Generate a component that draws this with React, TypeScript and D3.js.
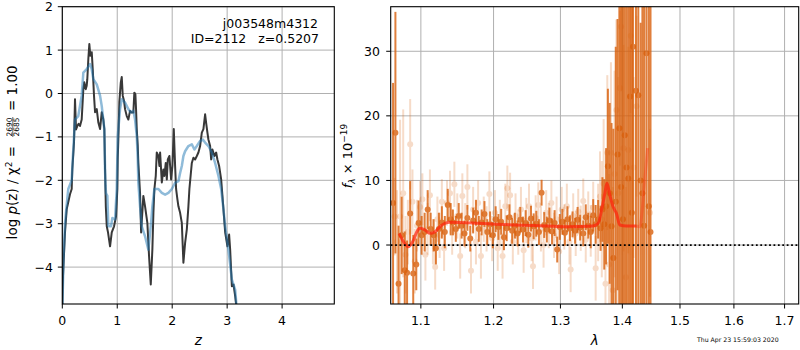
import React from "react";
import * as d3 from "d3";

// ---- p(z) panel ----
const zData = [0, 0.013, 0.049, 0.08, 0.1, 0.14, 0.171, 0.182, 0.213, 0.231, 0.25, 0.273, 0.295, 0.322, 0.353, 0.383, 0.4, 0.426, 0.444, 0.455, 0.474, 0.492, 0.51, 0.536, 0.554, 0.577, 0.596, 0.627, 0.656, 0.687, 0.718, 0.747, 0.765, 0.778, 0.792, 0.809, 0.832, 0.869, 0.9, 0.942, 0.978, 1.002, 1.009, 1.02, 1.038, 1.064, 1.082, 1.1, 1.124, 1.142, 1.173, 1.202, 1.233, 1.264, 1.293, 1.311, 1.33, 1.342, 1.355, 1.373, 1.384, 1.415, 1.434, 1.475, 1.506, 1.548, 1.579, 1.61, 1.639, 1.658, 1.676, 1.701, 1.719, 1.749, 1.767, 1.78, 1.811, 1.84, 1.858, 1.883, 1.902, 1.92, 1.949, 1.98, 2.004, 2.029, 2.053, 2.071, 2.095, 2.113, 2.144, 2.175, 2.204, 2.235, 2.266, 2.295, 2.313, 2.357, 2.386, 2.417, 2.448, 2.477, 2.508, 2.539, 2.568, 2.599, 2.617, 2.641, 2.659, 2.69, 2.709, 2.732, 2.769, 2.8, 2.823, 2.854, 2.891, 2.914, 2.933, 2.964, 3.005, 3.036, 3.055, 3.086, 3.115, 3.146, 3.177];
const pData = [-5.0, -4.2, -3.2, -2.67, -2.55, -2.32, -2.2, -1.75, -1.13, -0.13, -0.83, -0.75, -0.7, -0.75, -0.6, 0.1, 0.26, 0.1, 0.18, 0.33, 0.8, 1.14, 0.87, 0.95, 0.56, -0.05, -0.43, -0.36, -0.67, -0.82, -0.43, -0.6, -0.82, -1.75, -2.6, -3.06, -3.2, -3.52, -3.2, -3.06, -2.83, -2.2, -1.5, -1.06, -0.2, 0.25, 0.38, -0.05, -0.17, -0.36, -0.52, -0.6, -0.4, -0.44, -0.44, 0.02, -0.02, -0.36, -0.82, -1.2, -1.6, -2.3, -3.2, -2.36, -2.6, -2.98, -3.75, -4.4, -3.6, -2.75, -2.2, -1.9, -1.36, -1.44, -1.67, -1.36, -2.05, -1.75, -1.9, -1.6, -1.98, -1.52, -1.44, -1.98, -1.67, -0.82, -1.67, -2.2, -2.44, -2.6, -2.75, -2.98, -3.9, -3.44, -3.13, -2.6, -2.2, -1.6, -1.48, -1.52, -1.44, -1.36, -1.21, -0.9, -0.82, -0.48, -0.67, -0.9, -1.06, -1.21, -1.52, -1.29, -1.44, -1.36, -1.52, -1.67, -1.98, -2.36, -2.67, -3.2, -3.52, -3.25, -3.6, -4.44, -4.4, -4.67, -5.0];

const zFit = [0, 0.022, 0.049, 0.077, 0.109, 0.171, 0.195, 0.231, 0.291, 0.353, 0.383, 0.444, 0.505, 0.536, 0.565, 0.627, 0.687, 0.718, 0.765, 0.778, 0.787, 0.796, 0.82, 0.838, 0.887, 0.911, 0.96, 0.991, 1.009, 1.051, 1.082, 1.142, 1.202, 1.251, 1.293, 1.324, 1.355, 1.373, 1.384, 1.415, 1.446, 1.506, 1.566, 1.616, 1.639, 1.676, 1.749, 1.811, 1.871, 1.931, 1.993, 2.053, 2.113, 2.144, 2.175, 2.204, 2.235, 2.295, 2.357, 2.404, 2.448, 2.508, 2.557, 2.599, 2.659, 2.721, 2.781, 2.842, 2.891, 2.933, 2.964, 3.024, 3.086, 3.146, 3.177];
const pFit = [-5.0, -3.8, -3.0, -2.6, -2.2, -2.0, -1.4, -0.6, -0.52, -0.05, 0.48, 0.56, 0.68, 0.56, 0.33, 0.21, -0.05, -0.29, -0.82, -1.75, -2.13, -2.3, -2.36, -3.06, -3.06, -2.87, -2.9, -2.2, -0.98, -0.36, -0.13, -0.21, -0.36, -0.44, -0.4, -0.6, -0.98, -1.5, -2.06, -2.6, -3.06, -3.29, -3.6, -2.98, -2.6, -2.2, -2.2, -2.29, -2.33, -2.29, -2.2, -2.06, -2.02, -1.83, -1.67, -1.44, -1.33, -1.21, -1.17, -1.29, -1.21, -1.09, -1.06, -1.13, -1.21, -1.36, -1.6, -1.9, -2.2, -2.67, -3.06, -3.6, -4.29, -4.52, -5.0];

const zTicks = [0, 1, 2, 3, 4];
const pTicks = [2, 1, 0, -1, -2, -3, -4];

// ---- spectrum panel ----
// light (second exposure) points
const waveA = [1.066, 1.069, 1.073, 1.077, 1.08, 1.083, 1.086, 1.089, 1.092, 1.095, 1.099, 1.102, 1.106, 1.109, 1.112, 1.116, 1.119, 1.122, 1.125, 1.128, 1.131, 1.135, 1.139, 1.142, 1.145, 1.149, 1.153, 1.156, 1.16, 1.163, 1.168, 1.171, 1.175, 1.178, 1.182, 1.186, 1.19, 1.194, 1.198, 1.202, 1.206, 1.209, 1.213, 1.217, 1.22, 1.224, 1.228, 1.232, 1.236, 1.24, 1.244, 1.248, 1.252, 1.256, 1.258, 1.262, 1.266, 1.27, 1.274, 1.278, 1.282, 1.286, 1.29, 1.294, 1.298, 1.302, 1.306, 1.31, 1.314, 1.316, 1.32, 1.324, 1.328, 1.332, 1.336, 1.34, 1.344, 1.348, 1.352, 1.356, 1.36, 1.363, 1.366, 1.369, 1.372, 1.375, 1.378, 1.381, 1.384, 1.387, 1.39, 1.393, 1.396, 1.398, 1.402, 1.406, 1.41, 1.414, 1.419, 1.424, 1.447];
const fluxA = [4.4, 0.5, 4.4, 8.0, -1.5, 2.0, 15.6, 6.7, -2.5, 3.0, 5.9, 7.1, -1.5, 2.5, 7.7, 0.5, -3.4, 4.0, 1.5, 6.7, -0.5, 6.5, 8.0, 2.0, 9.4, 4.5, -1.7, 7.6, 3.0, 9.0, -4.0, 5.5, 0.5, 6.5, -1.7, 4.0, 2.5, 7.9, 1.0, 5.0, -0.5, 3.5, -1.7, 6.0, 8.8, 7.7, 0.5, 4.5, 2.0, 5.5, -0.8, 3.8, 6.0, 1.0, -3.3, 4.2, 6.2, 2.5, 0.0, 5.0, 3.0, 6.5, 1.5, 4.0, -1.0, 5.5, 2.8, 6.0, 0.5, -3.8, 4.5, 1.8, 5.2, 2.6, 6.8, 0.8, 4.8, 2.2, 5.8, -3.6, 3.5, 7.5, 4.0, 9.5, -6.0, 14.3, -3.0, 14.3, -7.0, 11.0, 20.9, 8.0, 24.3, 33.8, 15.0, -5.0, 14.7, 32.4, 12.0, 21.5, 5.0];
const errA = [6, 8, 15, 13, 6, 5, 7, 5, 5, 4, 4, 4, 4, 4, 4, 3.5, 3.5, 3.5, 3.5, 3.5, 3.5, 3.5, 3.5, 3.5, 3.5, 3.5, 3.5, 3.5, 3.5, 3.5, 3.5, 3.5, 3.5, 3.5, 3.5, 3.5, 3.5, 3.5, 3.5, 3.5, 3.5, 3.5, 3.5, 3.5, 3.5, 3.5, 3.5, 3.5, 3.5, 3.5, 3.5, 3.5, 3.5, 3.5, 3.5, 3.5, 3.5, 3.5, 3.5, 3.5, 3.5, 3.5, 3.5, 3.5, 3.5, 3.5, 3.5, 3.5, 3.5, 3.5, 3.5, 3.5, 3.5, 3.5, 3.5, 3.5, 3.5, 4, 4, 5, 6, 7, 9, 10, 12, 12, 14, 14, 16, 16, 14, 18, 12, 10, 16, 14, 16, 12, 14, 14, 13];

// dark (first exposure) points
const waveB = [1.064, 1.067, 1.071, 1.075, 1.079, 1.082, 1.086, 1.09, 1.094, 1.097, 1.101, 1.105, 1.109, 1.113, 1.117, 1.12, 1.124, 1.128, 1.132, 1.136, 1.14, 1.143, 1.147, 1.151, 1.155, 1.159, 1.163, 1.167, 1.171, 1.175, 1.179, 1.183, 1.187, 1.191, 1.195, 1.199, 1.203, 1.207, 1.211, 1.215, 1.219, 1.223, 1.227, 1.231, 1.235, 1.239, 1.243, 1.247, 1.251, 1.255, 1.259, 1.263, 1.267, 1.271, 1.275, 1.279, 1.283, 1.287, 1.291, 1.295, 1.299, 1.303, 1.307, 1.311, 1.315, 1.319, 1.323, 1.327, 1.331, 1.336, 1.34, 1.344, 1.348, 1.352, 1.356, 1.36, 1.364, 1.367, 1.37, 1.373, 1.376, 1.379, 1.382, 1.385, 1.389, 1.392, 1.395, 1.398, 1.401, 1.404, 1.407, 1.41, 1.413, 1.416, 1.418, 1.423, 1.427, 1.431, 1.434, 1.437, 1.441, 1.445, 1.448];
const fluxB = [6.5, 17.4, -6.0, 1.5, -3.9, -4.3, 4.9, -4.4, -3.0, 3.4, 1.5, 2.0, 5.5, 2.5, 1.5, -0.5, 2.5, 3.5, 2.0, 6.2, 4.0, 3.5, 2.5, 4.5, 3.0, 1.8, 4.2, 1.0, 3.8, 5.0, 2.5, 3.5, 4.8, 2.0, 3.2, 1.5, 4.0, 2.8, 3.6, 1.2, 2.6, 4.3, 2.2, 3.0, 1.8, 3.9, 2.4, 3.4, 1.6, 4.1, 2.9, 3.3, 2.0, 8.1, 3.1, 2.4, 3.8, 2.1, 3.4, -0.7, 2.8, 3.6, 1.9, 4.0, 2.6, 3.2, 2.2, 3.9, 2.7, 1.8, 4.3, 3.0, 2.0, 4.6, 3.2, 4.0, 2.6, 5.5, 3.2, 6.0, 12.2, 8.0, 2.9, -2.0, 6.7, 14.0, 18.1, 9.0, 4.0, 17.0, 12.0, 10.3, 23.0, 5.0, 30.7, 23.9, 23.2, 10.0, 8.0, 3.0, 29.7, 6.0, 2.0];
const errB = [18.6, 18.7, 9, 6, 6, 5, 5, 6, 4, 3.5, 3, 3, 3, 2.5, 2.5, 2.5, 2.5, 2.5, 2.5, 2.5, 2.5, 2, 2, 2, 2, 2, 2, 2, 2, 2, 2, 2, 2, 2, 2, 2, 2, 2, 2, 2, 2, 2, 2, 2, 2, 2, 2, 2, 2, 2, 2, 2, 2, 2, 2, 2, 2, 2, 2, 2, 2, 2, 2, 2, 2, 2, 2, 2, 2, 2, 2, 2, 2.5, 2.5, 3, 3, 3.5, 5, 7, 9, 12, 14, 16, 20, 24, 21, 30, 35, 40, 40, 40, 40, 40, 40, 40, 40, 40, 24.4, 40, 40, 40, 40, 40];

// model
const waveModel = [1.0718, 1.0774, 1.0838, 1.0903, 1.0947, 1.0991, 1.1057, 1.1123, 1.1189, 1.1255, 1.1321, 1.1389, 1.1795, 1.2287, 1.2787, 1.3097, 1.3519, 1.36, 1.3656, 1.371, 1.3744, 1.3792, 1.3846, 1.3901, 1.3958, 1.4069, 1.424];
const fluxModel = [1.81, 0.51, -0.26, 0.77, 2.06, 2.59, 2.32, 1.81, 2.06, 2.83, 3.36, 3.51, 3.36, 3.1, 2.94, 2.83, 2.94, 3.36, 5.42, 8.0, 9.55, 7.74, 5.93, 4.9, 3.1, 2.94, 2.94];
const waveTail = [1.424, 1.4295, 1.4345, 1.438, 1.443];
const fluxTail = [2.94, 2.83, 6.2, 10.0, 15.0];

const lamTicks = [1.1, 1.2, 1.3, 1.4, 1.5, 1.6, 1.7];
const fTicks = [0, 10, 20, 30];

const FONT = "DejaVu Sans";
const GRID = "#b0b0b0";
const ORANGE = "#d9600c";

const fmt = (t: number) => (t < 0 ? "\u2212" + Math.abs(t) : String(t));
const zip = (a: number[], b: number[]) => a.map((v, i) => [v, b[i]] as [number, number]);

export default function App() {
  const xL = d3.scaleLinear().domain([0, 4.95]).range([62.3, 334.3]);
  const yL = d3.scaleLinear().domain([-4.85, 2]).range([304, 6.7]);
  const xR = d3.scaleLog().domain([1.061, 1.729]).range([390.7, 798.7]);
  const yR = d3.scaleLinear().domain([-9.13, 36.9]).range([304, 6.7]);

  const lineL = d3
    .line<[number, number]>()
    .x((d) => xL(d[0]))
    .y((d) => yL(d[1]));
  const lineR = d3
    .line<[number, number]>()
    .x((d) => xR(d[0]))
    .y((d) => yR(d[1]))
    .curve(d3.curveMonotoneX);

  const [l0, l1] = xL.range();
  const [r0, r1] = xR.range();
  const top = 6.7;
  const bot = 304;

  const errorbars = (w: number[], f: number[], e: number[], fill: string, op: number, key: string) =>
    w.map((x, i) => (
      <g key={key + i} opacity={op}>
        <line x1={xR(x)} x2={xR(x)} y1={yR(f[i] - e[i])} y2={yR(f[i] + e[i])} stroke={fill} strokeWidth={2} />
        <circle cx={xR(x)} cy={yR(f[i])} r={3} fill={fill} />
      </g>
    ));

  return (
    <svg width={800} height={350} style={{ position: "absolute", left: 0, top: 0, background: "#fff" }} fontFamily={FONT}>
      <defs>
        <clipPath id="clipL">
          <rect x={l0} y={top} width={l1 - l0} height={bot - top} />
        </clipPath>
        <clipPath id="clipR">
          <rect x={r0} y={top} width={r1 - r0} height={bot - top} />
        </clipPath>
      </defs>

      {/* ---------- left panel ---------- */}
      {zTicks.map((t) => (
        <line key={"gxl" + t} x1={xL(t)} x2={xL(t)} y1={top} y2={bot} stroke={GRID} strokeWidth={1} />
      ))}
      {pTicks.map((t) => (
        <line key={"gyl" + t} x1={l0} x2={l1} y1={yL(t)} y2={yL(t)} stroke={GRID} strokeWidth={1} />
      ))}
      <g clipPath="url(#clipL)">
        <path d={lineL(zip(zData, pData)) ?? ""} fill="none" stroke="#383838" strokeWidth={2} strokeLinejoin="round" />
        <path d={lineL(zip(zFit, pFit)) ?? ""} fill="none" stroke="#1f77b4" strokeOpacity={0.5} strokeWidth={2.5} strokeLinejoin="round" />
      </g>
      <rect x={l0} y={top} width={l1 - l0} height={bot - top} fill="none" stroke="#000" strokeWidth={1.1} />
      {zTicks.map((t) => (
        <g key={"txl" + t}>
          <line x1={xL(t)} x2={xL(t)} y1={bot} y2={bot + 4.5} stroke="#000" />
          <text x={xL(t)} y={324.5} fontSize={12.5} textAnchor="middle">{fmt(t)}</text>
        </g>
      ))}
      {pTicks.map((t) => (
        <g key={"tyl" + t}>
          <line x1={l0 - 4.5} x2={l0} y1={yL(t)} y2={yL(t)} stroke="#000" />
          <text x={53} y={yL(t) + 4.5} fontSize={12.5} textAnchor="end">{fmt(t)}</text>
        </g>
      ))}
      <text x={(l0 + l1) / 2} y={345} fontSize={13.5} textAnchor="middle" fontStyle="italic">z</text>
      <g transform="translate(17,155) rotate(-90)" fontSize={13.5}>
        <text x={9} y={0} textAnchor="end">
          log <tspan fontStyle="italic">p</tspan>(z) / {"\u03c7"}
          <tspan fontSize={9} dy={-5}>2</tspan>
          <tspan dy={5}> =</tspan>
        </text>
        <text x={28} y={-5.2} fontSize={7.5} textAnchor="middle">2690</text>
        <line x1={18} x2={38} y1={-4.2} y2={-4.2} stroke="#000" strokeWidth={0.6} />
        <text x={28} y={1.6} fontSize={7.5} textAnchor="middle">2685</text>
        <text x={44} y={0}>= 1.00</text>
      </g>
      <text x={318} y={28} fontSize={12.5} textAnchor="end">j003548m4312</text>
      <text x={319} y={42.5} fontSize={12.5} textAnchor="end" xmlSpace="preserve">{"ID=2112   z=0.5207"}</text>

      {/* ---------- right panel ---------- */}
      {lamTicks.map((t) => (
        <line key={"gxr" + t} x1={xR(t)} x2={xR(t)} y1={top} y2={bot} stroke={GRID} strokeWidth={1} />
      ))}
      {fTicks.map((t) => (
        <line key={"gyr" + t} x1={r0} x2={r1} y1={yR(t)} y2={yR(t)} stroke={GRID} strokeWidth={1} />
      ))}
      <g clipPath="url(#clipR)">
        {errorbars(waveA, fluxA, errA, ORANGE, 0.22, "a")}
        {errorbars(waveB, fluxB, errB, ORANGE, 0.8, "b")}
        <path d={lineR(zip(waveTail, fluxTail)) ?? ""} fill="none" stroke="#ff2a0a" strokeOpacity={0.35} strokeWidth={3} />
        <path d={lineR(zip(waveModel, fluxModel)) ?? ""} fill="none" stroke="#ff200a" strokeOpacity={0.7} strokeWidth={3} />
        <line x1={r0} x2={r1} y1={yR(0)} y2={yR(0)} stroke="#000" strokeWidth={1.8} strokeDasharray="1.8 2.6" />
      </g>
      <rect x={r0} y={top} width={r1 - r0} height={bot - top} fill="none" stroke="#000" strokeWidth={1.1} />
      {lamTicks.map((t) => (
        <g key={"txr" + t}>
          <line x1={xR(t)} x2={xR(t)} y1={bot} y2={bot + 4.5} stroke="#000" />
          <text x={xR(t)} y={324.5} fontSize={12.5} textAnchor="middle">{t.toFixed(1)}</text>
        </g>
      ))}
      {fTicks.map((t) => (
        <g key={"tyr" + t}>
          <line x1={r0 - 4.5} x2={r0} y1={yR(t)} y2={yR(t)} stroke="#000" />
          <text x={380} y={yR(t) + 4.5} fontSize={12.5} textAnchor="end">{fmt(t)}</text>
        </g>
      ))}
      <text x={(r0 + r1) / 2} y={345} fontSize={13.5} textAnchor="middle" fontStyle="italic">{"\u03bb"}</text>
      <g transform="translate(352,156) rotate(-90)" fontSize={13}>
        <text x={0} y={0} textAnchor="middle">
          <tspan fontStyle="italic">f</tspan>
          <tspan fontSize={9} dy={3} fontStyle="italic">{"\u03bb"}</tspan>
          <tspan dy={-3}>{" \u00d7 10"}</tspan>
          <tspan fontSize={9} dy={-5}>{"\u221219"}</tspan>
        </text>
      </g>
      <text x={697} y={342} fontSize={6.2}>Thu Apr 23 15:59:03 2020</text>
    </svg>
  );
}
